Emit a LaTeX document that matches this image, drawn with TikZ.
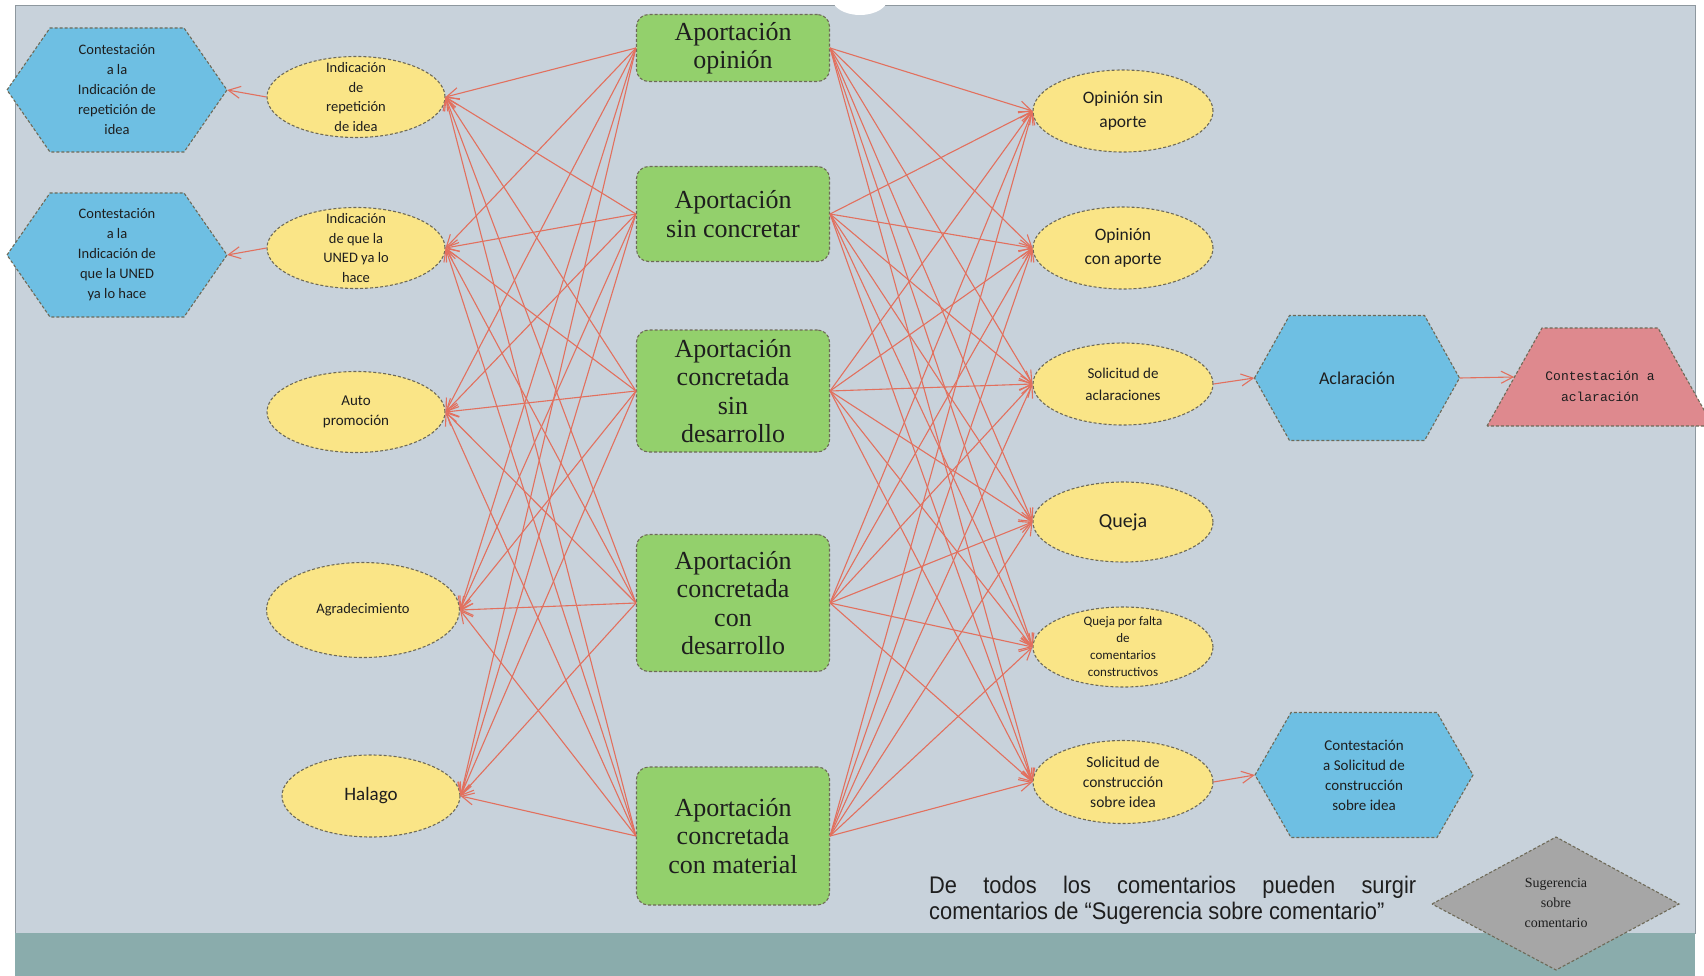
\documentclass[tikz,border=0pt]{standalone}
\usepackage{fontspec}
\setmainfont{Liberation Serif}
\newfontfamily\calfont{Carlito}
\newfontfamily\notefont[FakeStretch=0.91]{Liberation Sans}
\newfontfamily\typefont{Liberation Mono}
\usetikzlibrary{shapes.geometric,arrows.meta}

\definecolor{panel}{HTML}{C8D2DB}
\definecolor{panelline}{HTML}{8E989F}
\definecolor{band}{HTML}{8AACAC}
\definecolor{hexblue}{HTML}{6EBFE3}
\definecolor{ovalyellow}{HTML}{FAE587}
\definecolor{boxgreen}{HTML}{93D06C}
\definecolor{trapink}{HTML}{DE898E}
\definecolor{diagray}{HTML}{A6A6A6}
\definecolor{edgegray}{HTML}{6E6A58}
\definecolor{linkred}{HTML}{E2705E}
\definecolor{inkdark}{HTML}{1E1E1E}

\newcommand\fsz[2]{\fontsize{#1}{#2}\selectfont}

% hexagon outline: centre x, centre y, half width, half height, inset of the points
\newcommand\hexoutline[5]{%
  \filldraw[border, fill=hexblue] (#1-#3,#2) -- (#1-#3+#5,#2-#4) -- (#1+#3-#5,#2-#4)
    -- (#1+#3,#2) -- (#1+#3-#5,#2+#4) -- (#1-#3+#5,#2+#4) -- cycle;}

\tikzset{
  border/.style={draw=edgegray, line width=1.1pt, dash pattern=on 3pt off 2pt},
  ideabox/.style={border, fill=boxgreen, rounded corners=12pt, minimum width=193pt,
    inner sep=0pt, align=center, text=inkdark, font=\fsz{26}{28.5}},
  oval/.style={ellipse, border, fill=ovalyellow, inner sep=0pt,
    minimum width=178pt, minimum height=81pt},
  ovaltext/.style={align=center, text=inkdark, inner sep=0pt},
  hexlabel/.style={draw=none, inner sep=0pt, align=center, text=inkdark},
  link/.style={draw=linkred, line width=1.1pt,
    -{Straight Barb[length=12pt,width=12pt,line width=1.1pt]}},
}

\begin{document}
\begin{tikzpicture}[x=1pt,y=-1pt]
\useasboundingbox (0,0) rectangle (1704,976);
% page and panel
\fill[white] (0,0) rectangle (1704,976);
\filldraw[fill=panel, draw=panelline, line width=1pt] (15,6) rectangle (1695,933);
\fill[band] (15,933) rectangle (1695,976);
\fill[white] (860,-2) ellipse [x radius=28, y radius=17];

% contribution types (centre column)
\node[ideabox, minimum height=67pt]  (g1) at (733,48)  {Aportación\\opinión};
\node[ideabox, minimum height=95pt]  (g2) at (733,214) {Aportación\\sin concretar};
\node[ideabox, minimum height=122pt] (g3) at (733,391) {Aportación\\concretada\\sin\\desarrollo};
\node[ideabox, minimum height=137pt] (g4) at (733,603) {Aportación\\concretada\\con\\desarrollo};
\node[ideabox, minimum height=138pt] (g5) at (733,836) {Aportación\\concretada\\con material};

% replies on the left
\node[oval, label={[ovaltext, font=\calfont\fsz{14.5}{19.5}]center:{Indicación\\de\\repetición\\de idea}}] (e1) at (356,97) {};
\node[oval, label={[ovaltext, font=\calfont\fsz{14.5}{19.5}]center:{Indicación\\de que la\\UNED ya lo\\hace}}] (e2) at (356,248) {};
\node[oval, label={[ovaltext, font=\calfont\fsz{15}{20}]center:{Auto\\promoción}}] (e3) at (356,412) {};
\node[oval, minimum width=193pt, minimum height=95pt, label={[ovaltext, font=\calfont\fsz{14.5}{19}]center:{Agradecimiento}}] (e4) at (363,610) {};
\node[oval, minimum height=82pt, label={[ovaltext, font=\calfont\fsz{19}{22}]center:{Halago}}] (e5) at (371,796) {};

% answers to the left replies
\hexoutline{117}{90}{110}{62}{43}
\node[hexlabel, minimum width=220pt, minimum height=124pt, font=\calfont\fsz{14.5}{20}] (h1) at (117,90)
  {Contestación\\a la\\Indicación de\\repetición de\\idea};
\hexoutline{117}{255}{110}{62}{43}
\node[hexlabel, minimum width=220pt, minimum height=124pt, font=\calfont\fsz{14.5}{20}] (h2) at (117,255)
  {Contestación\\a la\\Indicación de\\que la UNED\\ya lo hace};

% replies on the right
\node[oval, minimum width=180pt, minimum height=82pt, label={[ovaltext, font=\calfont\fsz{17.5}{24}]center:{Opinión sin\\aporte}}] (r1) at (1123,111) {};
\node[oval, minimum width=180pt, minimum height=82pt, label={[ovaltext, font=\calfont\fsz{17.5}{24}]center:{Opinión\\con aporte}}] (r2) at (1123,248) {};
\node[oval, minimum width=180pt, minimum height=82pt, label={[ovaltext, font=\calfont\fsz{15}{22}]center:{Solicitud de\\aclaraciones}}] (r3) at (1123,384) {};
\node[oval, minimum width=180pt, minimum height=80pt, label={[ovaltext, font=\calfont\fsz{20}{22}]center:{Queja}}] (r4) at (1123,522) {};
\node[oval, minimum width=180pt, minimum height=80pt, label={[ovaltext, font=\calfont\fsz{13}{17}]center:{Queja por falta\\de\\comentarios\\constructivos}}] (r5) at (1123,647) {};
\node[oval, minimum width=180pt, minimum height=83pt, label={[ovaltext, font=\calfont\fsz{15.5}{20}]center:{Solicitud de\\construcción\\sobre idea}}] (r6) at (1123,782) {};

% follow-up shapes on the right
\hexoutline{1357}{378}{102.5}{62.5}{35}
\node[hexlabel, minimum width=205pt, minimum height=125pt, font=\calfont\fsz{18}{22}] (acl) at (1357,378) {Aclaración};
\hexoutline{1364}{775}{109}{62.5}{36}
\node[hexlabel, minimum width=218pt, minimum height=125pt, font=\calfont\fsz{15}{20}] (h3) at (1364,775)
  {Contestación\\a Solicitud de\\construcción\\sobre idea};

\filldraw[border, fill=trapink] (1487,426) -- (1542,328) -- (1658,328) -- (1713,426) -- cycle;
\node[hexlabel, minimum width=171pt, minimum height=98pt,
  label={[ovaltext, yshift=-9pt, font=\typefont\fsz{13}{21}]center:{Contestación a\\aclaración}}] (tr) at (1600,377) {};

\filldraw[border, fill=diagray] (1432,904) -- (1556,837) -- (1679,904) -- (1556,970) -- cycle;
\node[hexlabel, minimum width=247pt, minimum height=133pt, font=\fsz{14}{20}] (sg) at (1556,903)
  {Sugerencia\\sobre\\comentario};

% note
\node[anchor=base west, inner sep=0pt, text=inkdark] (note) at (929,893)
  {\parbox[t]{487pt}{\notefont\fsz{24}{26}De todos los comentarios pueden surgir\linebreak
   comentarios de “Sugerencia sobre comentario”}};

% every contribution type leads to every reply
\foreach \i in {1,...,5} {
  \foreach \j in {1,...,5} { \draw[link] (g\i.west) -- (e\j.east); }
  \foreach \j in {1,...,6} { \draw[link] (g\i.east) -- (r\j.west); }
}
\draw[link] (e1.west) -- (h1.east);
\draw[link] (e2.west) -- (h2.east);
\draw[link] (r3.east) -- (acl.west);
\draw[link] (acl.east) -- (tr.west);
\draw[link] (r6.east) -- (h3.west);
\end{tikzpicture}
\end{document}
